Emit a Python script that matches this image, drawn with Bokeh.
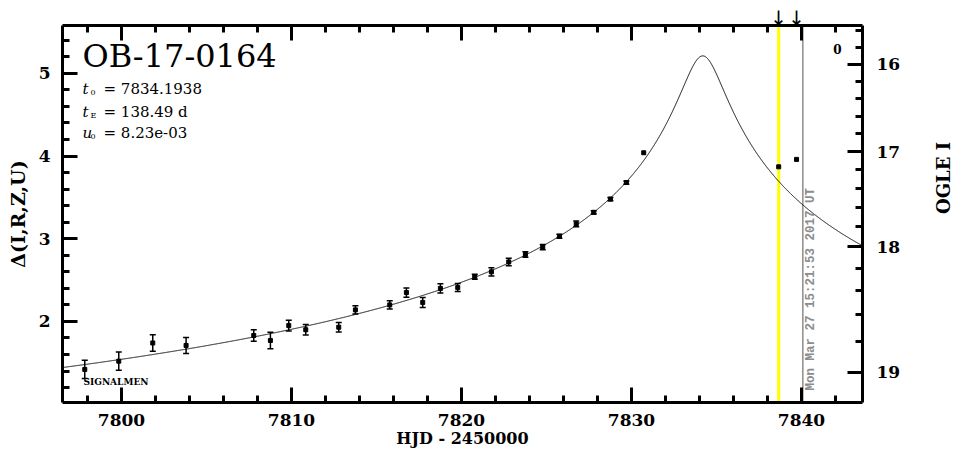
import numpy as np
from math import pi
from bokeh.plotting import figure
from bokeh.models import (LinearAxis, FixedTicker, CustomJSTickFormatter, Span, Label,
                          Whisker, TeeHead, ColumnDataSource, Range1d)
from bokeh.core.properties import value
from bokeh.embed import file_html
from bokeh.resources import INLINE

# ---------------- data ----------------
hjd = [7797.84, 7799.84, 7801.84, 7803.80, 7807.78, 7808.76, 7809.84, 7810.84,
       7812.78, 7813.76, 7815.78, 7816.76, 7817.72, 7818.76, 7819.78, 7820.78,
       7821.76, 7822.78, 7823.76, 7824.78, 7825.76, 7826.75, 7827.78, 7828.76,
       7829.70, 7830.72, 7838.66, 7839.71]
delta = [1.42, 1.52, 1.74, 1.71, 1.83, 1.77, 1.95, 1.90,
         1.93, 2.14, 2.20, 2.35, 2.23, 2.40, 2.41, 2.54,
         2.60, 2.72, 2.81, 2.90, 3.03, 3.18, 3.32, 3.48,
         3.68, 4.04, 3.87, 3.96]
err = [0.11, 0.11, 0.10, 0.097, 0.07, 0.10, 0.066, 0.063,
       0.058, 0.05, 0.05, 0.056, 0.06, 0.056, 0.048, 0.03,
       0.05, 0.045, 0.034, 0.032, 0.025, 0.036, 0.02, 0.02,
       0.02, 0.0, 0.0, 0.0]

EVENT = "OB-17-0164"
T0 = 7834.1938
TE = 138.49
U0 = 8.23e-3
I_BASE = 19.48      # OGLE I baseline magnitude
FS = 0.216          # source flux fraction
YELLOW_HJD = 7838.66
NOW_HJD = 7840.08
NOW_TEXT = "Mon Mar 27 15:21:53 2017 UT"
ARROW_HJD = [7838.66, 7839.71]

x_ticks = [7800, 7810, 7820, 7830, 7840]
left_ticks = [2, 3, 4, 5]
mag_ticks = [16, 17, 18, 19]

X0, X1 = 7796.53, 7843.59
Y0, Y1 = 1.02, 5.579
FW, FH = 800, 377
BL, BR, BT, BB = 62, 95, 25, 48


def px_x(px):
    return X0 + px * (X1 - X0) / FW


def px_y(py):
    return Y1 - py * (Y1 - Y0) / FH


def mag_to_delta(m):
    a = (10 ** (-0.4 * (m - I_BASE)) - (1 - FS)) / FS
    return 2.5 * np.log10(a)


# Paczynski model from the fitted parameters
t = np.linspace(X0, X1, 4000)
t = np.sort(np.append(t, T0))
u = np.sqrt(U0 ** 2 + ((t - T0) / TE) ** 2)
A = (u ** 2 + 2) / (u * np.sqrt(u ** 2 + 4))
model = 2.5 * np.log10(A)

p = figure(frame_width=FW, frame_height=FH,
           x_range=Range1d(X0, X1), y_range=Range1d(Y0, Y1),
           output_backend="svg", toolbar_location=None,
           min_border_left=BL, min_border_right=BR,
           min_border_top=BT, min_border_bottom=BB)
p.grid.visible = False
p.outline_line_color = None
p.background_fill_color = "white"

FONT = "DejaVu Serif"


def style(ax):
    ax.axis_line_width = 3
    ax.axis_line_color = "black"
    ax.major_tick_line_width = 3
    ax.minor_tick_line_width = 3
    ax.major_tick_in = 15
    ax.major_tick_out = 0
    ax.minor_tick_in = 7
    ax.minor_tick_out = 0
    ax.major_label_text_font = FONT
    ax.major_label_text_font_style = "bold"
    ax.major_label_text_font_size = "17px"
    ax.major_label_text_color = "black"
    ax.axis_label_text_font = FONT
    ax.axis_label_text_font_style = "bold"
    ax.axis_label_text_color = "black"


x_minor = [float(v) for v in np.arange(7798, 7844, 2)]
y_minor = [round(float(v), 2) for v in np.arange(1.2, 5.6, 0.2)]
mag_minor = []
for m in np.arange(15.6, 19.25, 0.2):
    with np.errstate(invalid="ignore"):
        d = float(mag_to_delta(m))
    if np.isfinite(d) and Y0 <= d <= Y1:
        mag_minor.append(d)

xa = p.xaxis[0]
style(xa)
xa.ticker = FixedTicker(ticks=x_ticks, minor_ticks=x_minor)
xa.major_label_standoff = 11
xa.axis_label = "HJD - 2450000"
xa.axis_label_text_font_size = "16px"
xa.axis_label_standoff = 0

ya = p.yaxis[0]
style(ya)
ya.ticker = FixedTicker(ticks=left_ticks, minor_ticks=y_minor)
ya.major_label_standoff = 12
ya.axis_label = "Δ(I,R,Z,U)"
ya.axis_label_text_font_size = "19px"
ya.axis_label_standoff = 7

# top axis: ticks only
top = LinearAxis(ticker=FixedTicker(ticks=x_ticks, minor_ticks=x_minor),
                 formatter=CustomJSTickFormatter(code="return ''"))
style(top)
top.major_label_standoff = 0
top.major_label_text_font_size = "0px"
p.add_layout(top, "above")

# arrows above the frame, marking the two latest observations
arrows = LinearAxis(ticker=FixedTicker(ticks=ARROW_HJD, minor_ticks=[]),
                    formatter=CustomJSTickFormatter(code="return '↓'"))
arrows.axis_line_color = None
arrows.major_tick_line_color = None
arrows.minor_tick_line_color = None
arrows.major_tick_in = 0
arrows.major_tick_out = 0
arrows.minor_tick_in = 0
arrows.minor_tick_out = 0
arrows.major_label_standoff = -4
arrows.major_label_text_font = "DejaVu Sans"
arrows.major_label_text_font_size = "20px"
arrows.major_label_text_color = "black"
p.add_layout(arrows, "above")

right = LinearAxis(ticker=FixedTicker(ticks=[float(mag_to_delta(m)) for m in mag_ticks],
                                      minor_ticks=mag_minor),
                   formatter=CustomJSTickFormatter(args=dict(ib=I_BASE, fs=FS), code="""
                       const a = Math.pow(10, tick / 2.5);
                       const m = ib - 2.5 * Math.log10(a * fs + 1 - fs);
                       return Math.round(m).toString();"""))
style(right)
right.major_label_standoff = 14
right.axis_label = "OGLE I"
right.axis_label_text_font_size = "18px"
right.axis_label_standoff = 40
if "axis_label_orientation" in right.properties():
    right.axis_label_orientation = pi / 2
p.add_layout(right, "right")

# vertical markers
p.add_layout(Span(location=YELLOW_HJD, dimension="height", line_color="#ffff00",
                  line_width=3, level="underlay"))
p.add_layout(Span(location=NOW_HJD, dimension="height", line_color="#8c8c8c",
                  line_width=1.5, level="underlay"))

# model curve
p.line(t, model, line_color="black", line_width=1)

# data with error bars
eb = [(h, d, e) for h, d, e in zip(hjd, delta, err) if e > 0]
src_err = ColumnDataSource(dict(base=[v[0] for v in eb],
                                upper=[v[1] + v[2] for v in eb],
                                lower=[v[1] - v[2] for v in eb]))
p.add_layout(Whisker(source=src_err, base="base", upper="upper", lower="lower",
                     line_color="black", line_width=1.5,
                     upper_head=TeeHead(size=6, line_width=1.5, line_color="black"),
                     lower_head=TeeHead(size=6, line_width=1.5, line_color="black")))
p.scatter(hjd, delta, marker="square", size=4, color="black")

# texts
p.add_layout(Label(x=px_x(20), y=px_y(30), text=EVENT, text_font=FONT,
                   text_font_size="32px", text_baseline="middle", text_align="left",
                   text_color="black"))

param_rows = [("t", "0", "= 7834.1938", 63), ("t", "E", "= 138.49 d", 86),
              ("u", "0", "= 8.23e-03", 107)]
for sym, sub, rest, py in param_rows:
    p.add_layout(Label(x=px_x(20), y=px_y(py), text=sym, text_font=FONT,
                       text_font_style="italic", text_font_size="15px", text_color="black",
                       text_baseline="middle", text_align="left"))
    p.add_layout(Label(x=px_x(28), y=px_y(py + 4), text=sub, text_font=FONT,
                       text_font_size="8px", text_color="black",
                       text_baseline="middle", text_align="left"))
    p.add_layout(Label(x=px_x(41), y=px_y(py), text=rest, text_font=FONT,
                       text_font_size="15px", text_color="black",
                       text_baseline="middle", text_align="left"))

p.add_layout(Label(x=px_x(21), y=px_y(356), text="SIGNALMEN", text_font=FONT,
                   text_font_style="bold", text_font_size="9px", text_color="black",
                   text_baseline="middle", text_align="left"))
p.add_layout(Label(x=px_x(775), y=px_y(23), text="0", text_font=FONT,
                   text_font_style="bold", text_font_size="12px", text_color="black",
                   text_baseline="middle", text_align="center"))

p.text(x=[NOW_HJD], y=[px_y(365)], text=[NOW_TEXT], angle=pi / 2, x_offset=8,
       text_font=value("Liberation Mono"), text_font_size="12.5px",
       text_font_style="bold", text_color="#8c8c8c",
       text_align="left", text_baseline="middle")

open("out.html", "w").write(file_html(p, INLINE))
